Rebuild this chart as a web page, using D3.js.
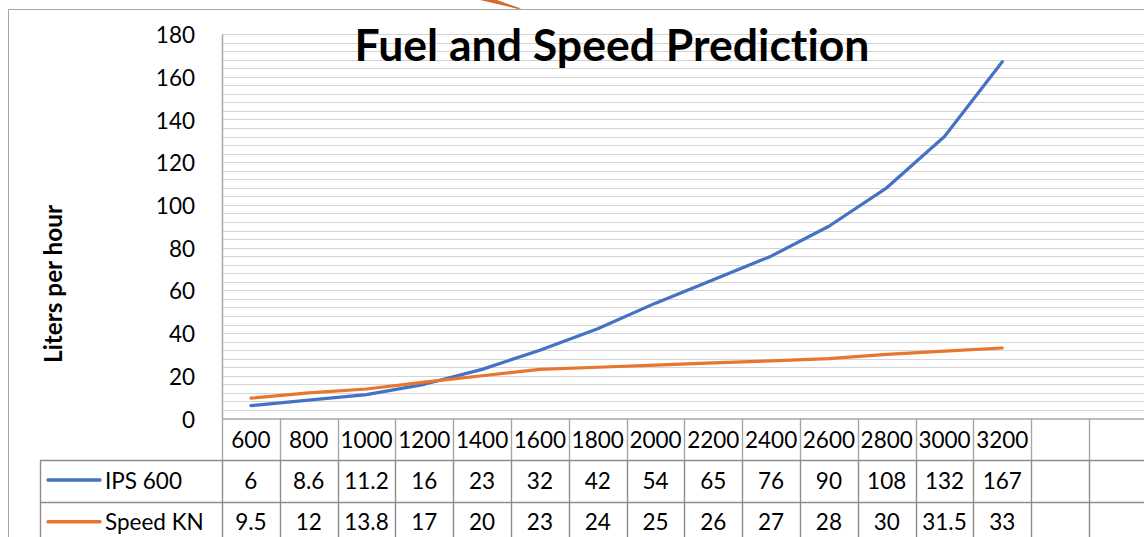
<!DOCTYPE html>
<html>
<head>
<meta charset="utf-8">
<script src="https://cdn.jsdelivr.net/npm/d3@7"></script>
<style>
html,body{margin:0;padding:0;background:#fff;overflow:hidden;}
svg{display:block;font-family:Lato,"Open Sans",sans-serif;font-variant-ligatures:none;font-feature-settings:"liga" 0;}
</style>
</head>
<body>
<svg id="chart" width="1144" height="537"></svg>
<script>
// ---- data ----
const categories = ["600","800","1000","1200","1400","1600","1800","2000","2200","2400","2600","2800","3000","3200"];
const ips600 = [6, 8.6, 11.2, 16, 23, 32, 42, 54, 65, 76, 90, 108, 132, 167];
const speedKN = [9.5, 12, 13.8, 17, 20, 23, 24, 25, 26, 27, 28, 30, 31.5, 33];
const seriesNames = ["IPS 600", "Speed KN"];
const seriesColors = ["#4472C4", "#E8762D"];
const yTicks = [0, 20, 40, 60, 80, 100, 120, 140, 160, 180];
const emptySlots = 2;
const titleText = "Fuel and Speed Prediction";
const yTitle = "Liters per hour";

const svg = d3.select("#chart");
const W = 1144, H = 537;
const fs = 22.5;

// layout
const plotLeft = 222, slotW = 57.8;
const nSlots = categories.length + emptySlots;
const plotRight = plotLeft + slotW * nSlots;
const plotTop = 34, plotBottom = 418.5;
const rowH = 41.6;

const slots = d3.range(nSlots);
const x = d3.scaleBand().domain(slots).range([plotLeft, plotRight]).padding(0);
const y = d3.scaleLinear().domain([0, 180]).range([plotBottom, plotTop]);

// outer chart border
svg.append("path")
  .attr("d", `M8.5,${H+5}V9.5H${W+5}`)
  .attr("fill", "none").attr("stroke", "#a6a6a6").attr("stroke-width", 1);

// stray orange stroke at top (artifact in reference)
svg.append("path")
  .attr("d", "M480,0 L497,0 L521,8.6 L518,8.9 Z")
  .attr("fill", "#D9692A");

// gridlines (minor every 4)
const gridVals = d3.range(4, 181, 4);
svg.append("g").selectAll("line").data(gridVals).join("line")
  .attr("x1", plotLeft).attr("x2", plotRight)
  .attr("y1", d => Math.round(y(d)) + 0.5).attr("y2", d => Math.round(y(d)) + 0.5)
  .attr("stroke", "#d4d4d4").attr("stroke-width", 1.2);

// y axis
const yAxis = d3.axisLeft(y).tickValues(yTicks).tickSize(0).tickPadding(27);
const gy = svg.append("g").attr("transform", `translate(${plotLeft},0)`).call(yAxis);
gy.select(".domain").attr("stroke", "#a6a6a6").attr("stroke-width", 1.5);
gy.selectAll("text").attr("font-size", fs).attr("fill", "#000")
  .attr("font-family", "Lato").attr("dy", "0.38em");

// x axis line
svg.append("line").attr("x1", plotLeft).attr("x2", plotRight)
  .attr("y1", plotBottom + 0.5).attr("y2", plotBottom + 0.5)
  .attr("stroke", "#a6a6a6").attr("stroke-width", 1.6);

// lines
const line = d3.line()
  .x((d, i) => x(i) + x.bandwidth() / 2)
  .y(d => y(d));
[ips600, speedKN].forEach((vals, k) => {
  svg.append("path").datum(vals)
    .attr("d", line)
    .attr("fill", "none")
    .attr("stroke", seriesColors[k])
    .attr("stroke-width", 3.2)
    .attr("stroke-linejoin", "round")
    .attr("stroke-linecap", "round");
});

// ---- data table ----
const tbl = svg.append("g");
const row1 = plotBottom, row2 = plotBottom + rowH, row3 = plotBottom + 2 * rowH, row4 = plotBottom + 3 * rowH;
// header verticals
tbl.selectAll("line.hv").data(d3.range(nSlots + 1)).join("line").attr("class", "hv")
  .attr("x1", i => Math.round(plotLeft + i * slotW) + 0.5)
  .attr("x2", i => Math.round(plotLeft + i * slotW) + 0.5)
  .attr("y1", row1).attr("y2", row2)
  .attr("stroke", "#a6a6a6").attr("stroke-width", 1.4);
// data verticals
tbl.selectAll("line.dv").data(d3.range(nSlots + 1)).join("line").attr("class", "dv")
  .attr("x1", i => Math.round(plotLeft + i * slotW) + 0.5)
  .attr("x2", i => Math.round(plotLeft + i * slotW) + 0.5)
  .attr("y1", row2).attr("y2", row4 + 10)
  .attr("stroke", "#8c8c8c").attr("stroke-width", 1.4);
// legend column left border
tbl.append("line").attr("x1", 40.5).attr("x2", 40.5).attr("y1", row2).attr("y2", row4 + 10)
  .attr("stroke", "#8c8c8c").attr("stroke-width", 1.4);
// horizontals
[row2, row3].forEach(r => {
  tbl.append("line").attr("x1", 40).attr("x2", plotRight)
    .attr("y1", Math.round(r) + 0.5).attr("y2", Math.round(r) + 0.5)
    .attr("stroke", "#8c8c8c").attr("stroke-width", 1.4);
});

// header labels
tbl.selectAll("text.cat").data(categories).join("text").attr("class", "cat")
  .attr("x", (d, i) => x(i) + x.bandwidth() / 2)
  .attr("y", row1 + 29.5)
  .attr("text-anchor", "middle").attr("font-size", fs).attr("fill", "#000")
  .text(d => d);

// value rows
[ips600, speedKN].forEach((vals, k) => {
  const ry = (k === 0 ? row2 : row3);
  tbl.selectAll(`text.v${k}`).data(vals).join("text").attr("class", `v${k}`)
    .attr("x", (d, i) => x(i) + x.bandwidth() / 2)
    .attr("y", ry + 28.5)
    .attr("text-anchor", "middle").attr("font-size", fs).attr("fill", "#000")
    .text(d => d);
  // legend key
  tbl.append("line")
    .attr("x1", 48).attr("x2", 100)
    .attr("y1", ry + 20).attr("y2", ry + 20)
    .attr("stroke", seriesColors[k]).attr("stroke-width", 3.5)
    .attr("stroke-linecap", "round");
  tbl.append("text").attr("x", 105).attr("y", ry + 28.5)
    .attr("font-size", fs).attr("fill", "#000").text(seriesNames[k]);
});

// title
const t = svg.append("text").attr("x", 612).attr("y", 61)
  .attr("text-anchor", "middle").attr("font-weight", "bold").attr("font-size", 40)
  .attr("fill", "#000").text(titleText);
const tw = t.node().getComputedTextLength();
t.attr("font-size", 40 * 515 / tw);

// y title
const yt = svg.append("text")
  .attr("transform", "translate(62,284) rotate(-90)")
  .attr("text-anchor", "middle").attr("font-weight", "bold").attr("font-size", 20)
  .attr("fill", "#000").text(yTitle);
const yw = yt.node().getComputedTextLength();
yt.attr("font-size", 20 * 158 / yw);
</script>
</body>
</html>
